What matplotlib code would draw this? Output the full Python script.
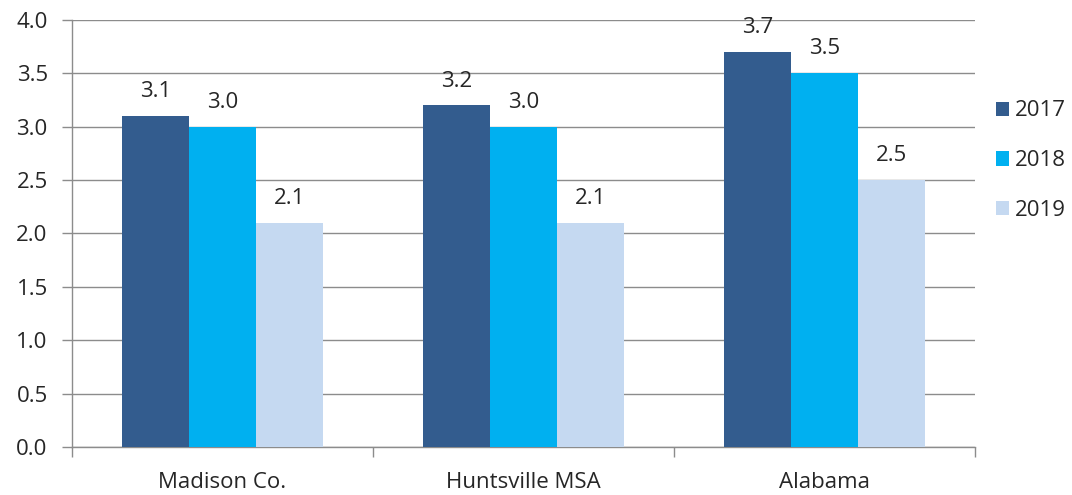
import matplotlib
matplotlib.use("Agg")
import matplotlib.pyplot as plt
from matplotlib.patches import Patch
import numpy as np

categories = ["Madison Co.", "Huntsville MSA", "Alabama"]
years = ["2017", "2018", "2019"]
values_2017 = [3.1, 3.2, 3.7]
values_2018 = [3.0, 3.0, 3.5]
values_2019 = [2.1, 2.1, 2.5]
colors = ["#335C8E", "#00B0F0", "#C5D9F1"]

plt.rcParams["font.family"] = ["Open Sans", "DejaVu Sans"]

fig = plt.figure(figsize=(10.72, 4.95), dpi=100)
ax = fig.add_axes([0.0672, 0.097, 0.8423, 0.8626])

x = np.arange(len(categories))
bw = 0.2228
series = [values_2017, values_2018, values_2019]
text_col = "#262626"
fs = 16
for i, (vals, col) in enumerate(zip(series, colors)):
    pos = x + (i - 1) * bw
    bars = ax.bar(pos, vals, width=bw, color=col, zorder=3)
    for b, v in zip(bars, vals):
        ax.annotate(f"{v:.1f}", (b.get_x() + b.get_width() / 2, v),
                    xytext=(0, 10), textcoords="offset points",
                    ha="center", va="bottom", fontsize=fs, color=text_col)

grid_col = "#8C8C8C"
ax.set_ylim(0, 4.0)
ax.set_xlim(-0.5, 2.5)
ticks = np.arange(0, 4.01, 0.5)
ax.set_yticks(ticks)
ax.set_yticklabels([f"{t:.1f}" for t in ticks], fontsize=fs, color=text_col)
ax.yaxis.grid(True, color=grid_col, linewidth=1, zorder=0)
ax.set_axisbelow(True)

ax.set_xticks(x)
ax.set_xticklabels(categories, fontsize=fs, color=text_col)
ax.tick_params(axis="x", length=0, pad=18)
ax.set_xticks([-0.5, 0.5, 1.5, 2.5], minor=True)
ax.tick_params(axis="x", which="minor", length=7, color=grid_col, width=1)
ax.tick_params(axis="y", length=7.5, color=grid_col, width=1, pad=10)

for s in ["top", "right"]:
    ax.spines[s].set_visible(False)
for s in ["left", "bottom"]:
    ax.spines[s].set_color(grid_col)
    ax.spines[s].set_linewidth(1)

handles = [Patch(facecolor=c, edgecolor="none") for c in colors]
fig.legend(handles, years, loc="center left", bbox_to_anchor=(0.91, 0.675),
           frameon=False, fontsize=fs, handlelength=0.6, handleheight=0.6,
           handletextpad=0.25, labelspacing=1.3, labelcolor=text_col)

fig.savefig("out.png", dpi=100, facecolor="white")
